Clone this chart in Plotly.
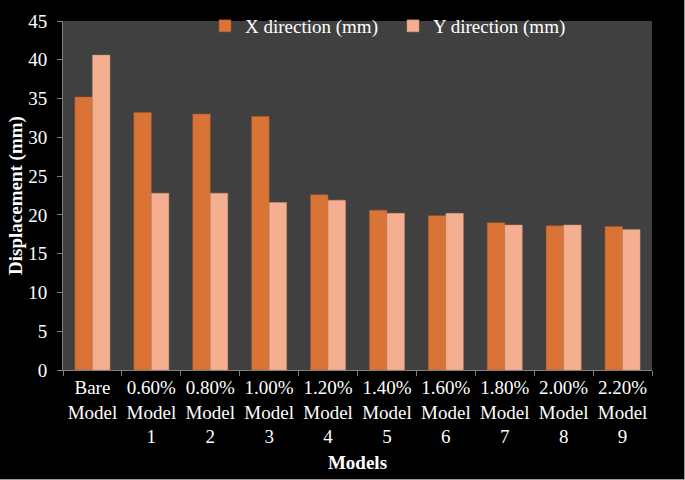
import plotly.graph_objects as go

categories = ["Bare<br>Model", "0.60%<br>Model<br>1", "0.80%<br>Model<br>2", "1.00%<br>Model<br>3",
              "1.20%<br>Model<br>4", "1.40%<br>Model<br>5", "1.60%<br>Model<br>6", "1.80%<br>Model<br>7",
              "2.00%<br>Model<br>8", "2.20%<br>Model<br>9"]
x_direction = [35.2, 33.2, 33.0, 32.7, 22.6, 20.6, 19.9, 19.0, 18.6, 18.5]
y_direction = [40.6, 22.8, 22.8, 21.6, 21.9, 20.2, 20.2, 18.7, 18.7, 18.1]
y_ticks = [0, 5, 10, 15, 20, 25, 30, 35, 40, 45]

font_family = "Liberation Serif, Times New Roman, serif"

fig = go.Figure()
fig.add_trace(go.Bar(x=categories, y=x_direction, name="X direction (mm)",
                     marker=dict(color="#DA7436", line=dict(color="#A9582C", width=0.5))))
fig.add_trace(go.Bar(x=categories, y=y_direction, name="Y direction (mm)",
                     marker=dict(color="#F4AE90", line=dict(color="#C98E74", width=0.5))))

L, R, T, B = 63, 33, 21, 110
W, H = 685, 480
pw, ph = W - L - R, H - T - B

fig.update_layout(
    width=W, height=H,
    paper_bgcolor="black", plot_bgcolor="#404040",
    margin=dict(l=L, r=R, t=T, b=B, autoexpand=False),
    barmode="group", bargap=0.405, bargroupgap=0,
    font=dict(family=font_family, color="white", size=19),
    legend=dict(orientation="h", x=(205 - L) / pw, y=1.0 + 14 / ph, xanchor="left", yanchor="top",
                bgcolor="rgba(0,0,0,0)", font=dict(size=19, color="white"),
                itemwidth=30, tracegroupgap=0, entrywidth=143, entrywidthmode="pixels"),
    showlegend=True,
    shapes=[
        dict(type="line", xref="paper", yref="paper",
             x0=-L / pw, x1=(W - L) / pw, y0=-(B - 0.5) / ph, y1=-(B - 0.5) / ph,
             line=dict(color="#9a9a9a", width=1)),
        dict(type="line", xref="paper", yref="paper",
             x0=(W - L - 0.5) / pw, x1=(W - L - 0.5) / pw, y0=-B / ph, y1=1 + T / ph,
             line=dict(color="#9a9a9a", width=1)),
    ],
)
fig.update_xaxes(
    title=dict(text="<b>Models</b>", font=dict(size=19), standoff=9),
    automargin=False,
    showgrid=False, showline=True, linecolor="#808080", linewidth=1,
    ticks="outside", tickson="boundaries", tickcolor="#808080", ticklen=5,
    tickfont=dict(size=19, color="white"), tickangle=0,
)
fig.update_yaxes(
    title=dict(text="<b>Displacement (mm)</b>", font=dict(size=19), standoff=0),
    automargin=False,
    range=[0, 45], tickvals=y_ticks, showgrid=False, zeroline=False,
    showline=True, linecolor="#808080", linewidth=1,
    ticks="outside", tickcolor="#808080", ticklen=5, ticklabelstandoff=6,
    tickfont=dict(size=19, color="white"),
)

fig.write_html("out.html", config={"displayModeBar": False},
               post_script="document.body.style.margin='0';document.body.style.background='black';")
